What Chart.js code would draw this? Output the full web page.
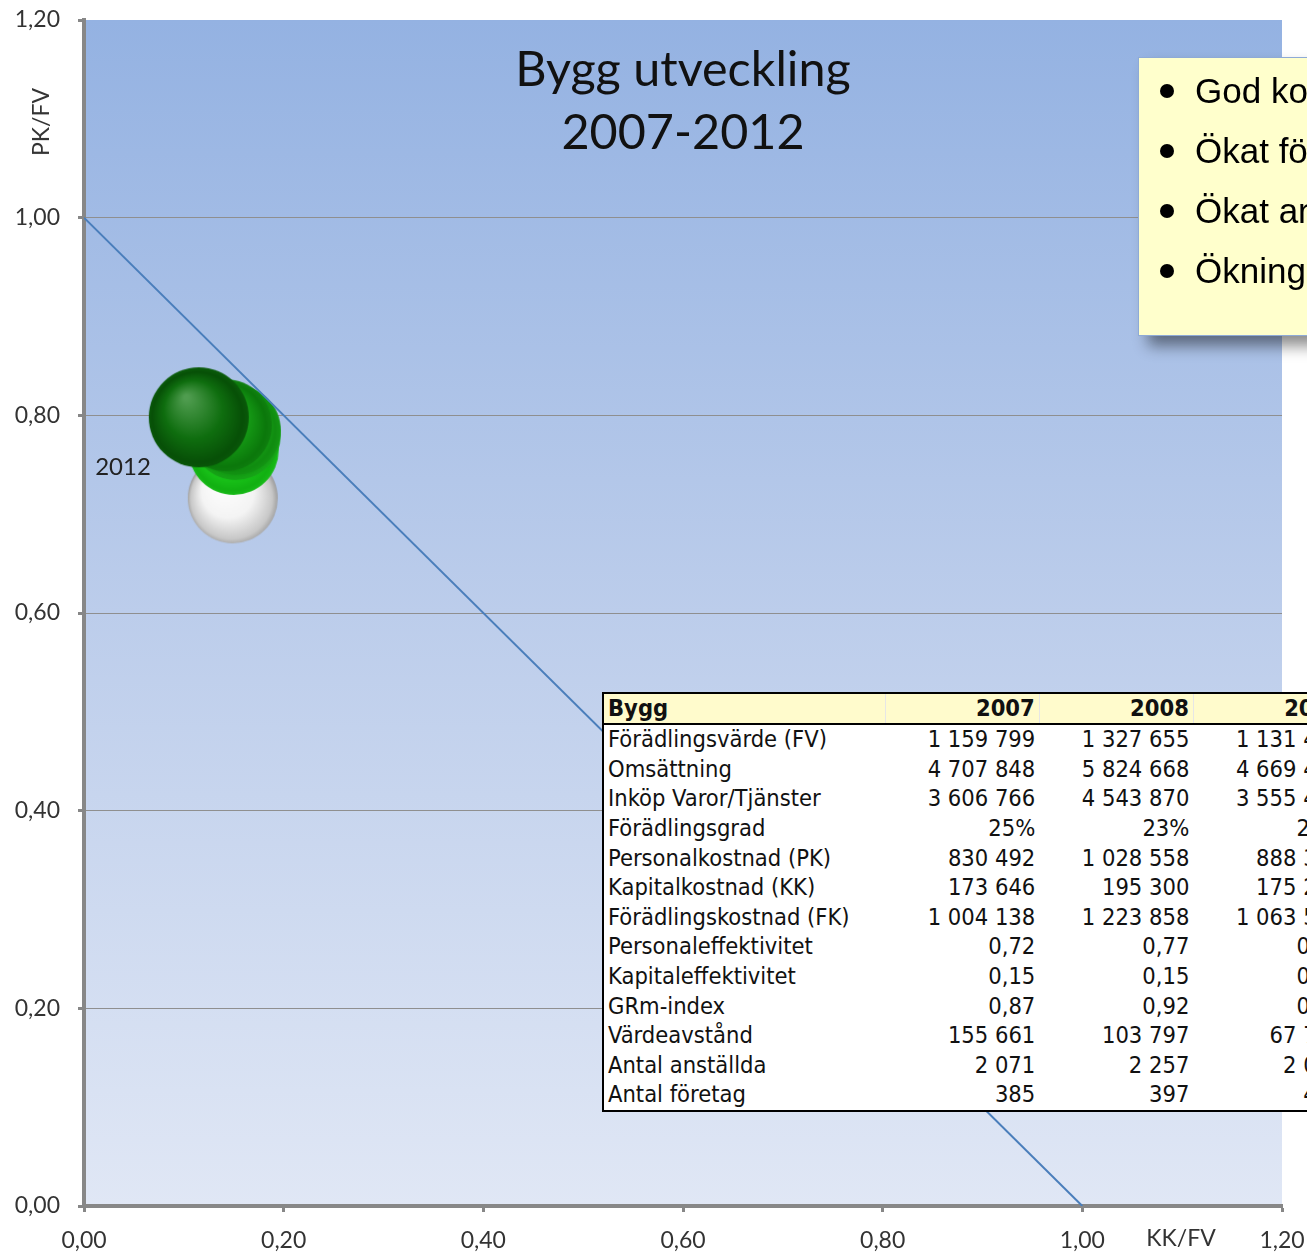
<!DOCTYPE html>
<html>
<head>
<meta charset="utf-8">
<script src="https://cdn.jsdelivr.net/npm/chart.js@4/dist/chart.umd.min.js"></script>
<style>
  html, body { margin: 0; padding: 0; background: #fff; overflow: hidden; }
  #wrap { position: relative; width: 1307px; height: 1252px; overflow: hidden; }
  #box { position: absolute; left: 0; top: 0; width: 1307px; height: 1252px; }
  .title { position: absolute; left: 383px; width: 600px; text-align: center; top: 36px;
    font-family: Lato, sans-serif; font-size: 48.5px; line-height: 63px; color: #111; }
  .ytitle { position: absolute; left: 40px; top: 122px; transform: translate(-50%, -50%) rotate(-90deg);
    font-family: Lato, sans-serif; font-size: 23px; color: #333; }
  .xtitle { position: absolute; left: 1181px; top: 1237px; transform: translate(-50%, -50%);
    font-family: Lato, sans-serif; font-size: 23px; color: #333; }
  .note { position: absolute; left: 1138px; top: 57px; width: 400px; height: 277px;
    background: #ffffcc; border: 1px solid #8eaad6; box-shadow: 10px 10px 14px rgba(0,0,0,0.45);
    font-family: "Liberation Sans", Arial, sans-serif; font-size: 35px; color: #000; }
  .note div { position: absolute; left: 56px; white-space: nowrap; line-height: 40px; }
  .note div::before { content: ""; position: absolute; left: -35px; top: 13px; width: 14px; height: 14px;
    border-radius: 50%; background: #000; }
  table.data { position: absolute; left: 602px; top: 692px; border-collapse: collapse; table-layout: fixed;
    width: 746px;
    font-family: "DejaVu Sans Condensed", "DejaVu Sans", sans-serif; font-size: 23.5px; color: #111;
    background: #fff; border-left: 2px solid #000; border-top: 2px solid #000; border-bottom: 2px solid #000; }
  table.data td { padding: 0 4px; height: 29.6px; line-height: 29px; white-space: nowrap; overflow: hidden; }
  table.data td.num { text-align: right; }
  table.data td.lab { text-align: left; }
  table.data tr.head td { background: #fffbcc; font-weight: bold; height: 26px;
    border-bottom: 2px solid #000; border-right: 1px solid #e6e6e6; }
</style>
</head>
<body>
<div id="wrap">
  <div id="box"><canvas id="c"></canvas></div>
  <div class="title">Bygg utveckling<br>2007-2012</div>
  <div class="ytitle">PK/FV</div>
  <div class="xtitle">KK/FV</div>
  <div class="note" id="note"></div>
  <table class="data" id="tbl">
    <colgroup><col style="width:282px"><col style="width:154px"><col style="width:154px"><col style="width:154px"></colgroup>
  </table>
</div>
<script>
// bubble data: x = Kapitaleffektivitet (KK/FV), y = Personaleffektivitet (PK/FV)
var years = [2007, 2008, 2009, 2010, 2011, 2012];
var kapitalEff = [0.149, 0.15, 0.152, 0.152, 0.142, 0.115];
var personalEff = [0.716, 0.765, 0.78, 0.785, 0.79, 0.798];

// reference line PK/FV + KK/FV = 1
var refX = [0, 1];
var refY = [1, 0];

var axisMin = 0, axisMax = 1.2, axisStep = 0.2;

// table
var tableHead = ["Bygg", "2007", "2008", "2009"];
var rowLabels = ["Förädlingsvärde (FV)", "Omsättning", "Inköp Varor/Tjänster", "Förädlingsgrad",
  "Personalkostnad (PK)", "Kapitalkostnad (KK)", "Förädlingskostnad (FK)", "Personaleffektivitet",
  "Kapitaleffektivitet", "GRm-index", "Värdeavstånd", "Antal anställda", "Antal företag"];
var col2007 = ["1 159 799", "4 707 848", "3 606 766", "25%", "830 492", "173 646", "1 004 138",
  "0,72", "0,15", "0,87", "155 661", "2 071", "385"];
var col2008 = ["1 327 655", "5 824 668", "4 543 870", "23%", "1 028 558", "195 300", "1 223 858",
  "0,77", "0,15", "0,92", "103 797", "2 257", "397"];
var col2009 = ["1 131 426", "4 669 412", "3 555 439", "24%", "888 352", "175 244", "1 063 596",
  "0,79", "0,15", "0,94", "67 730", "2 064", "412"];

var notes = ["God konkurrenskraft", "Ökat förädlingsvärde", "Ökat antal anställda", "Ökning av antal företag"];

// ---- build table + note
var tbl = document.getElementById("tbl");
var h = "<tr class='head'><td class='lab'>" + tableHead[0] + "</td>";
for (var i = 1; i < tableHead.length; i++) h += "<td class='num'>" + tableHead[i] + "</td>";
h += "</tr>";
for (var r = 0; r < rowLabels.length; r++) {
  h += "<tr><td class='lab'>" + rowLabels[r] + "</td><td class='num'>" + col2007[r] +
    "</td><td class='num'>" + col2008[r] + "</td><td class='num'>" + col2009[r] + "</td></tr>";
}
tbl.insertAdjacentHTML("beforeend", h);

var note = document.getElementById("note");
notes.forEach(function(t, i) {
  var d = document.createElement("div");
  d.textContent = t;
  d.style.top = (13 + i * 60) + "px";
  note.appendChild(d);
});

// ---- sphere images for the bubbles
function sphere(r, light, mid, dark, rim) {
  var c = document.createElement("canvas");
  c.width = c.height = 2 * r + 2;
  var g = c.getContext("2d");
  var cx = r + 1, cy = r + 1;
  var grad = g.createRadialGradient(cx - r * 0.25, cy - r * 0.4, r * 0.05, cx, cy + r * 0.05, r * 1.02);
  grad.addColorStop(0, light);
  grad.addColorStop(0.55, mid);
  grad.addColorStop(0.88, dark);
  grad.addColorStop(1, rim);
  g.fillStyle = grad;
  g.beginPath();
  g.arc(cx, cy, r, 0, Math.PI * 2);
  g.fill();
  return c;
}
var sphereStyles = [
  sphere(45, "#ffffff", "#f4f4f4", "#c8c8c8", "#9a9a9a"),
  sphere(45, "#5ae65a", "#1fd21f", "#12b012", "#19c019"),
  sphere(45, "#6ad86a", "#27c427", "#149e14", "#1aa81a"),
  sphere(45, "#5ccc5c", "#1eb41e", "#108c10", "#159815"),
  sphere(46, "#4fb84f", "#169c16", "#0b780b", "#108010"),
  sphere(50, "#4f9c4f", "#0f6e0f", "#075007", "#0a5a0a")
];

function fmt(v) { return Number(v).toFixed(2).replace(".", ","); }

var bgPlugin = {
  id: "bg",
  beforeDatasetsDraw: function(chart) {
    var a = chart.chartArea, ctx = chart.ctx;
    var gr = ctx.createLinearGradient(0, a.top, 0, a.bottom);
    gr.addColorStop(0, "#94b2e2");
    gr.addColorStop(0.5, "#bccdeb");
    gr.addColorStop(1, "#e0e7f5");
    ctx.save();
    ctx.globalCompositeOperation = "destination-over";
    ctx.fillStyle = gr;
    ctx.fillRect(a.left, a.top, a.right - a.left, a.bottom - a.top);
    ctx.restore();
  },
  afterDatasetsDraw: function(chart) {
    var meta = chart.getDatasetMeta(1);
    var last = meta.data[meta.data.length - 1];
    var ctx = chart.ctx;
    ctx.save();
    ctx.font = "24px Lato";
    ctx.fillStyle = "#222";
    ctx.textAlign = "right";
    ctx.textBaseline = "middle";
    ctx.fillText(String(years[years.length - 1]), last.x - 48, last.y + 50);
    ctx.restore();
  }
};

var bubblePoints = years.map(function(y, i) { return { x: kapitalEff[i], y: personalEff[i] }; });
var linePoints = refX.map(function(x, i) { return { x: x, y: refY[i] }; });

new Chart(document.getElementById("c"), {
  type: "scatter",
  data: {
    datasets: [
      {
        type: "line",
        data: linePoints,
        borderColor: "#4a7ebb",
        borderWidth: 2,
        pointRadius: 0,
        fill: false,
        order: 0
      },
      {
        data: bubblePoints,
        pointStyle: sphereStyles,
        pointRadius: 45,
        order: 1
      }
    ]
  },
  plugins: [bgPlugin],
  options: {
    responsive: true,
    maintainAspectRatio: false,
    animation: false,
    layout: { autoPadding: false, padding: { top: 20, right: 25, left: 0, bottom: 0 } },
    plugins: { legend: { display: false }, tooltip: { enabled: false } },
    scales: {
      x: {
        type: "linear", min: axisMin, max: axisMax,
        afterFit: function(s) { s.height = 46; s.paddingLeft = 0; s.paddingRight = 0; },
        ticks: { stepSize: axisStep, callback: fmt, padding: 15, color: "#333", font: { family: "Lato", size: 23 }, maxRotation: 0 },
        grid: { drawOnChartArea: false, drawTicks: true, tickLength: 6, tickWidth: 3, tickColor: "#878787" },
        border: { color: "#878787", width: 4 }
      },
      y: {
        type: "linear", min: axisMin, max: axisMax,
        afterFit: function(s) { s.width = 84; s.paddingTop = 0; s.paddingBottom = 0; },
        ticks: { stepSize: axisStep, callback: fmt, padding: 18, color: "#333", font: { family: "Lato", size: 23 } },
        grid: {
          color: function(c) { return c.tick && c.tick.value > 1.19 ? "rgba(0,0,0,0)" : "#8f8f8f"; },
          lineWidth: 1, drawTicks: true, tickLength: 6, tickWidth: 3, tickColor: "#878787"
        },
        border: { color: "#878787", width: 4 }
      }
    }
  }
});
</script>
</body>
</html>
